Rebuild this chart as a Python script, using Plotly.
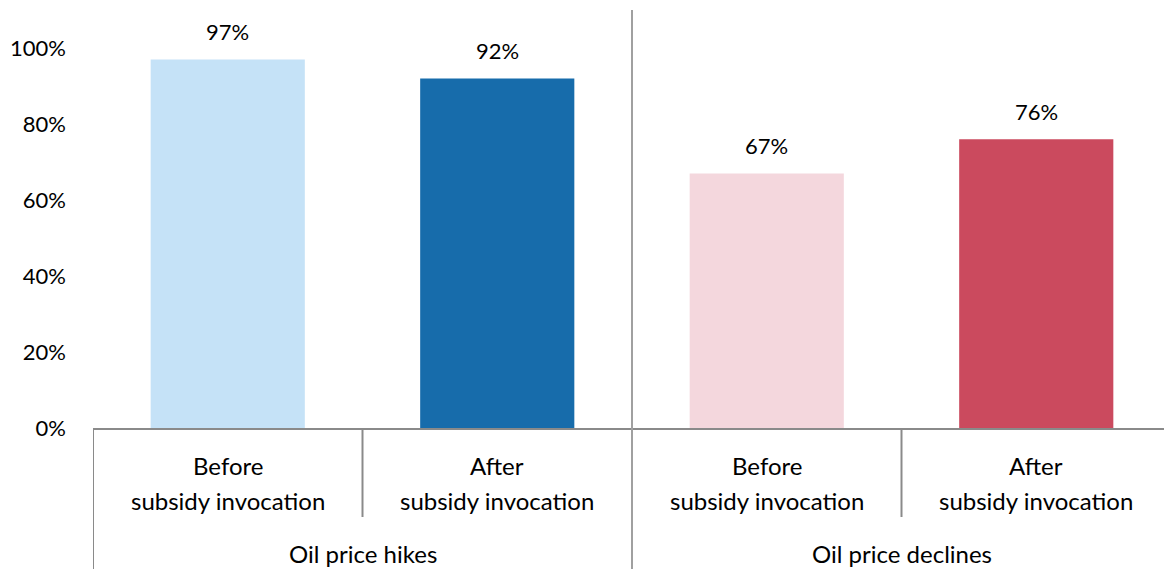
import plotly.graph_objects as go

# Share of cases, by oil price movement and subsidy timing
groups = ["Oil price hikes", "Oil price declines"]
line1 = ["Before", "After", "Before", "After"]
line2 = ["subsidy invocation"] * 4
values = [0.97, 0.92, 0.67, 0.76]
bar_colors = ["#c5e2f7", "#176cab", "#f4d7dd", "#cb4a5e"]
ytick_vals = [0, 0.2, 0.4, 0.6, 0.8, 1.0]
ytick_text = ["0%", "20%", "40%", "60%", "80%", "100%"]

W, H = 1164, 569
ML, MR, MT, MB = 93, 0, 10, 141
plot_h = H - MT - MB
FONT = "Lato"
GRAY = "#8a8a8a"

xs = list(range(len(values)))


def py(pix):
    """Pixel row (from top) -> paper y."""
    return (H - MB - pix) / plot_h


fig = go.Figure()
fig.add_trace(go.Bar(
    x=xs, y=values, marker=dict(color=bar_colors, line=dict(width=0)),
    width=0.572, hoverinfo="skip",
))

annotations = []
for x, v in zip(xs, values):
    annotations.append(dict(
        x=x, y=v, xref="x", yref="y", text=f"{round(v * 100)}%",
        showarrow=False, yanchor="bottom", yshift=12,
        font=dict(family=FONT, size=22, color="black"),
    ))
for x, a, b in zip(xs, line1, line2):
    annotations.append(dict(x=x, y=py(465), xref="x", yref="paper", text=a,
                            showarrow=False, yanchor="middle",
                            font=dict(family=FONT, size=24, color="black")))
    annotations.append(dict(x=x, y=py(500), xref="x", yref="paper", text=b,
                            showarrow=False, yanchor="middle",
                            font=dict(family=FONT, size=24, color="black")))
for gi, g in enumerate(groups):
    annotations.append(dict(x=2 * gi + 0.5, y=py(553), xref="x", yref="paper",
                            text=g, showarrow=False, yanchor="middle",
                            font=dict(family=FONT, size=24, color="black")))

shapes = []
# category separators below the axis
for xb, bottom in [(-0.5, H), (0.5, 517), (2.5, 517)]:
    shapes.append(dict(type="line", xref="x", yref="paper", x0=xb, x1=xb,
                       y0=py(428), y1=py(bottom),
                       line=dict(color=GRAY, width=2)))
# divider between the two groups
shapes.append(dict(type="line", xref="x", yref="paper", x0=1.5, x1=1.5,
                   y0=1, y1=py(H), line=dict(color="#a0a0a0", width=2)))

slot_px = 269.5
fig.update_layout(
    width=W, height=H,
    margin=dict(l=ML, r=MR, t=MT, b=MB, pad=0),
    plot_bgcolor="white", paper_bgcolor="white",
    showlegend=False,
    annotations=annotations, shapes=shapes,
    xaxis=dict(range=[-0.5, -0.5 + (W - ML - MR) / slot_px],
               showticklabels=False, ticks="", showgrid=False, zeroline=False,
               showline=True, linecolor=GRAY, linewidth=2),
    yaxis=dict(range=[0, 1.1], tickvals=ytick_vals, ticktext=ytick_text,
               showgrid=False, zeroline=False, showline=False, ticks="",
               ticklabelstandoff=26,
               tickfont=dict(family=FONT, size=22, color="black")),
)

fig.write_html("out.html")
